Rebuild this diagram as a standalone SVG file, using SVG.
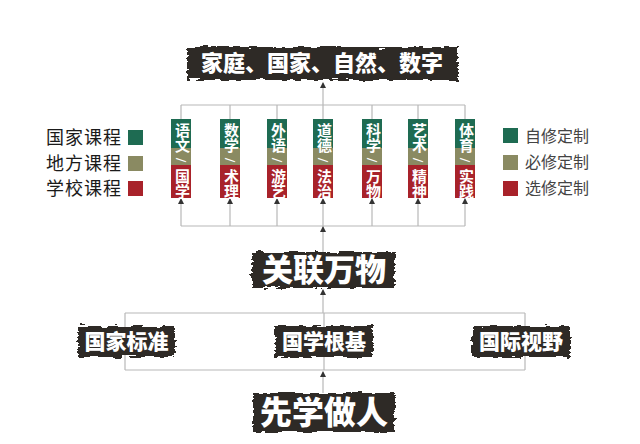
<svg xmlns="http://www.w3.org/2000/svg" width="640" height="444" viewBox="0 0 640 444">
<defs>
<style>
.ban{fill:#2d2a28;filter:url(#rough)}
.bt{fill:#fff;font-family:"Liberation Serif","Noto Sans CJK SC",serif;font-weight:900;text-anchor:middle}
.conn line{stroke:#b8b8b8;stroke-width:1.2;fill:none}
.conn line.a{marker-end:url(#ah)}
.g{fill:#1e6b52}.o{fill:#8a8a62}.r{fill:#a8222a}
.ct{fill:#fff;font-family:"Liberation Serif","Noto Sans CJK SC",serif;font-weight:700;font-size:15px;writing-mode:tb;text-anchor:middle}
.lg{fill:#1a1a1a;font-family:"Liberation Serif","Noto Sans CJK SC",serif;font-size:18px;text-anchor:end;letter-spacing:1px}
.rg{fill:#444;font-family:"Liberation Serif","Noto Sans CJK SC",serif;font-size:16px}
</style>
<filter id="rough" x="-5%" y="-20%" width="110%" height="140%">
<feTurbulence type="fractalNoise" baseFrequency="0.09 0.35" numOctaves="2" seed="4" result="n"/>
<feDisplacementMap in="SourceGraphic" in2="n" scale="7" xChannelSelector="R" yChannelSelector="G"/>
</filter>
<marker id="ah" viewBox="0 0 6 6" refX="5" refY="3" markerWidth="6" markerHeight="6" markerUnits="userSpaceOnUse" orient="auto">
<path d="M0,0 L6,3 L0,6 Z" fill="#333"/>
</marker>
</defs>
<rect width="640" height="444" fill="#fff"/>

<g class="conn" id="connectors">
<line class="a" x1="323" y1="105" x2="323" y2="83"/>
<line x1="181" y1="105" x2="465" y2="105"/>
<line x1="181" y1="105" x2="181" y2="119"/>
<line x1="230" y1="105" x2="230" y2="119"/>
<line x1="277" y1="105" x2="277" y2="119"/>
<line x1="323" y1="105" x2="323" y2="119"/>
<line x1="372" y1="105" x2="372" y2="119"/>
<line x1="418" y1="105" x2="418" y2="119"/>
<line x1="465" y1="105" x2="465" y2="119"/>
<line x1="181" y1="226" x2="465" y2="226"/>
<line class="a" x1="181" y1="226" x2="181" y2="199"/>
<line class="a" x1="230" y1="226" x2="230" y2="199"/>
<line class="a" x1="277" y1="226" x2="277" y2="199"/>
<line class="a" x1="323" y1="226" x2="323" y2="199"/>
<line class="a" x1="372" y1="226" x2="372" y2="199"/>
<line class="a" x1="418" y1="226" x2="418" y2="199"/>
<line class="a" x1="465" y1="226" x2="465" y2="199"/>
<line class="a" x1="323" y1="252" x2="323" y2="227"/>
<line class="a" x1="323" y1="313" x2="323" y2="290"/>
<line x1="125" y1="313" x2="525" y2="313"/>
<line x1="125" y1="313" x2="125" y2="370"/>
<line x1="324" y1="313" x2="324" y2="370"/>
<line x1="525" y1="313" x2="525" y2="370"/>
<line x1="125" y1="370" x2="525" y2="370"/>
<line class="a" x1="323" y1="393" x2="323" y2="372"/>
</g>

<g id="top">
<rect class="ban" x="187" y="47" width="271" height="33"/>
<text class="bt" x="322" y="71" font-size="22">家庭、国家、自然、数字</text>
</g>

<g id="c1"><rect class="g" x="171" y="119" width="20" height="29"/><rect class="o" x="171" y="148" width="20" height="17"/><rect class="r" x="171" y="165" width="20" height="33"/><text class="ct" x="181"><tspan y="130">语</tspan><tspan y="145">文</tspan><tspan y="160">/</tspan><tspan y="176">国</tspan><tspan y="191">学</tspan></text></g>
<g id="c2"><rect class="g" x="220" y="119" width="20" height="29"/><rect class="o" x="220" y="148" width="20" height="17"/><rect class="r" x="220" y="165" width="20" height="33"/><text class="ct" x="230"><tspan y="130">数</tspan><tspan y="145">学</tspan><tspan y="160">/</tspan><tspan y="176">术</tspan><tspan y="191">理</tspan></text></g>
<g id="c3"><rect class="g" x="267" y="119" width="20" height="29"/><rect class="o" x="267" y="148" width="20" height="17"/><rect class="r" x="267" y="165" width="20" height="33"/><text class="ct" x="277"><tspan y="130">外</tspan><tspan y="145">语</tspan><tspan y="160">/</tspan><tspan y="176">游</tspan><tspan y="191">艺</tspan></text></g>
<g id="c4"><rect class="g" x="313" y="119" width="20" height="29"/><rect class="o" x="313" y="148" width="20" height="17"/><rect class="r" x="313" y="165" width="20" height="33"/><text class="ct" x="323"><tspan y="130">道</tspan><tspan y="145">德</tspan><tspan y="160">/</tspan><tspan y="176">法</tspan><tspan y="191">治</tspan></text></g>
<g id="c5"><rect class="g" x="362" y="119" width="20" height="29"/><rect class="o" x="362" y="148" width="20" height="17"/><rect class="r" x="362" y="165" width="20" height="33"/><text class="ct" x="372"><tspan y="130">科</tspan><tspan y="145">学</tspan><tspan y="160">/</tspan><tspan y="176">万</tspan><tspan y="191">物</tspan></text></g>
<g id="c6"><rect class="g" x="408" y="119" width="20" height="29"/><rect class="o" x="408" y="148" width="20" height="17"/><rect class="r" x="408" y="165" width="20" height="33"/><text class="ct" x="418"><tspan y="130">艺</tspan><tspan y="145">术</tspan><tspan y="160">/</tspan><tspan y="176">精</tspan><tspan y="191">神</tspan></text></g>
<g id="c7"><rect class="g" x="455" y="119" width="20" height="29"/><rect class="o" x="455" y="148" width="20" height="17"/><rect class="r" x="455" y="165" width="20" height="33"/><text class="ct" x="465"><tspan y="130">体</tspan><tspan y="145">育</tspan><tspan y="160">/</tspan><tspan y="176">实</tspan><tspan y="191">践</tspan></text></g>

<g id="legend-left">
<text class="lg" x="122" y="144">国家课程</text><rect class="g" x="128" y="130" width="15" height="15"/>
<text class="lg" x="122" y="170">地方课程</text><rect class="o" x="128" y="156" width="15" height="15"/>
<text class="lg" x="122" y="195">学校课程</text><rect class="r" x="128" y="181" width="15" height="15"/>
</g>
<g id="legend-right">
<rect class="g" x="503" y="128" width="15" height="15"/><text class="rg" x="525" y="142">自修定制</text>
<rect class="o" x="503" y="155" width="15" height="15"/><text class="rg" x="525" y="168">必修定制</text>
<rect class="r" x="503" y="181" width="15" height="15"/><text class="rg" x="525" y="194">选修定制</text>
</g>

<g id="glwu">
<rect class="ban" x="252" y="252" width="143" height="36"/>
<text class="bt" x="324" y="281" font-size="31">关联万物</text>
</g>
<g id="gjbz">
<rect class="ban" x="78" y="326" width="97" height="31"/>
<text class="bt" x="126.5" y="349" font-size="21">国家标准</text>
</g>
<g id="gxgj">
<rect class="ban" x="275" y="326" width="98" height="31"/>
<text class="bt" x="324" y="349" font-size="21">国学根基</text>
</g>
<g id="gjsy">
<rect class="ban" x="472" y="326" width="98" height="31"/>
<text class="bt" x="521" y="349" font-size="21">国际视野</text>
</g>
<g id="xxzr">
<rect class="ban" x="253" y="393" width="142" height="39"/>
<text class="bt" x="324" y="424" font-size="32">先学做人</text>
</g>
</svg>
